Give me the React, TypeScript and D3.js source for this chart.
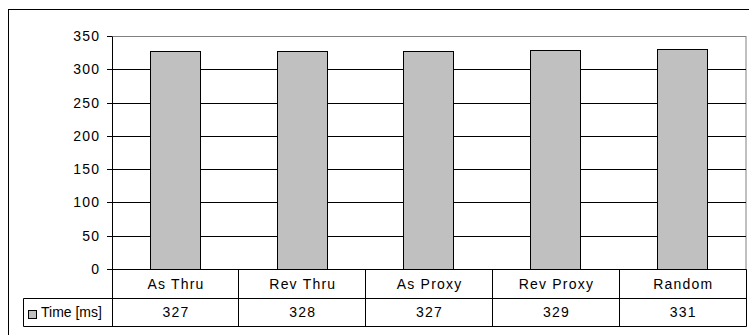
import React from "react";
import * as d3 from "d3";

const categories = ["As Thru", "Rev Thru", "As Proxy", "Rev Proxy", "Random"];
const values = [327, 328, 327, 329, 331];
const yTicks = [0, 50, 100, 150, 200, 250, 300, 350];
const seriesName = "Time [ms]";

const W = 749;
const H = 335;
const plotL = 112;
const plotR = 746;
const plotT = 36.5;
const plotB = 269.5;
const row1B = 298.5;
const row2B = 326.5;
const legendL = 23.5;
const font = "'Liberation Sans', Arial, sans-serif";
const ls = 1.2;

export default function App() {
  const cols = d3.scaleBand<string>().domain(categories).range([plotL, plotR]).padding(0);
  const x = d3
    .scaleBand<string>()
    .domain(categories)
    .range([plotL, plotR])
    .paddingInner(0.605)
    .paddingOuter(0.3025);
  const y = d3.scaleLinear().domain([0, 350]).range([plotB, plotT]);
  const snap = (v: number) => Math.round(v - 0.5) + 0.5;

  return (
    <svg
      width={W}
      height={H}
      style={{ position: "absolute", left: 0, top: 0, background: "#fff" }}
      fontFamily={font}
      fontSize={14}
    >
      <rect x={0} y={0} width={W} height={H} fill="#fff" />
      {/* outer chart border */}
      <rect x={8.5} y={9.5} width={800} height={400} fill="none" stroke="#000" strokeWidth={1} />

      {/* plot area border (gray) */}
      <rect
        x={plotL + 0.5}
        y={plotT}
        width={plotR - plotL - 0.5}
        height={plotB - plotT}
        fill="none"
        stroke="#808080"
        strokeWidth={1}
      />

      {/* gridlines */}
      {yTicks
        .filter((t) => t > 0 && t < 350)
        .map((t) => (
          <line key={t} x1={plotL} x2={plotR} y1={snap(y(t))} y2={snap(y(t))} stroke="#000" strokeWidth={1} />
        ))}

      {/* bars */}
      {categories.map((c, i) => (
        <rect
          key={c}
          x={snap(x(c)!)}
          y={snap(y(values[i]))}
          width={Math.round(x.bandwidth())}
          height={plotB - snap(y(values[i]))}
          fill="#C0C0C0"
          stroke="#000"
          strokeWidth={1}
        />
      ))}

      {/* y axis */}
      <line x1={plotL + 0.5} x2={plotL + 0.5} y1={plotT} y2={plotB} stroke="#000" />
      {yTicks.map((t) => (
        <g key={t}>
          <line x1={plotL - 5} x2={plotL} y1={snap(y(t))} y2={snap(y(t))} stroke="#000" />
          <text
            x={plotL - 13 + ls}
            y={snap(y(t))}
            dy="0.35em"
            textAnchor="end"
            fill="#000"
            letterSpacing={ls}
          >
            {t}
          </text>
        </g>
      ))}

      {/* data table */}
      <line x1={plotL} x2={plotR + 0.5} y1={plotB} y2={plotB} stroke="#000" />
      <line x1={legendL} x2={plotR + 0.5} y1={row1B} y2={row1B} stroke="#000" />
      <line x1={legendL} x2={plotR + 0.5} y1={row2B} y2={row2B} stroke="#000" />
      <line x1={legendL} x2={legendL} y1={row1B} y2={row2B} stroke="#000" />
      <line x1={plotL + 0.5} x2={plotL + 0.5} y1={plotB} y2={row2B} stroke="#000" />
      {categories.map((c) => (
        <line
          key={"sep" + c}
          x1={snap(cols(c)! + cols.bandwidth())}
          x2={snap(cols(c)! + cols.bandwidth())}
          y1={plotB}
          y2={row2B}
          stroke="#000"
        />
      ))}
      {categories.map((c, i) => (
        <g key={"t" + c}>
          <text
            x={cols(c)! + cols.bandwidth() / 2 + ls / 2}
            y={(plotB + row1B) / 2}
            dy="0.35em"
            textAnchor="middle"
            fill="#000"
            letterSpacing={ls}
          >
            {c}
          </text>
          <text
            x={cols(c)! + cols.bandwidth() / 2 + ls / 2}
            y={(row1B + row2B) / 2}
            dy="0.3em"
            textAnchor="middle"
            fill="#000"
            letterSpacing={ls}
          >
            {values[i]}
          </text>
        </g>
      ))}
      {/* legend key */}
      <rect x={28.5} y={310.5} width={8} height={8} fill="#C0C0C0" stroke="#000" />
      <text x={41} y={(row1B + row2B) / 2} dy="0.3em" fill="#000">
        {seriesName}
      </text>
    </svg>
  );
}
